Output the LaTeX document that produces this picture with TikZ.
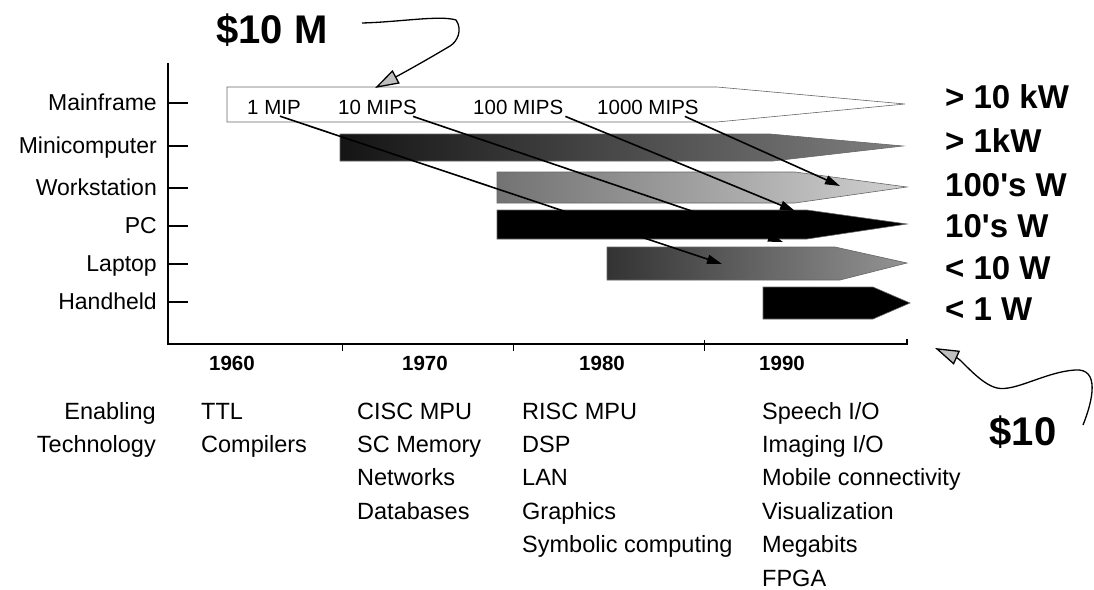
\documentclass[tikz,border=0pt]{standalone}
\usepackage{fontspec}
\setmainfont{Liberation Sans}
\usetikzlibrary{positioning,arrows.meta}

\begin{document}
\begin{tikzpicture}
		[x=1pt,y=-1pt,
		rowlabel/.style={anchor=base east,inner sep=0pt,font=\fontsize{23}{27}\selectfont},
		watts/.style={anchor=base west,inner sep=0pt,font=\fontsize{33}{38}\selectfont\bfseries},
		year/.style={anchor=base,inner sep=0pt,font=\fontsize{20.5}{24}\selectfont\bfseries},
		mips/.style={anchor=base west,inner sep=2pt,font=\fontsize{20.5}{24}\selectfont},
		tech/.style={inner sep=0pt,text height=17pt,text depth=4pt,font=\fontsize{23.5}{28}\selectfont},
		cost/.style={inner sep=0pt,font=\fontsize{40}{46}\selectfont\bfseries},
		bar/.style={draw=black!60,line width=0.6pt},
		rate/.style={-{Triangle[length=15pt,width=9pt]},line width=1.6pt},
		price/.style={line width=1.3pt,-{Triangle[length=24pt,width=15pt,fill=black!25]}}]
		\useasboundingbox (0,0) rectangle (1094,589);

		% axes
		\draw[line width=1.6pt] (168,63) -- (168,344) -- (907,344) -- (907,339);
		\draw[line width=1.4pt] (168,103) -- (188,103);
		\draw[line width=1.4pt] (168,146) -- (188,146);
		\draw[line width=1.4pt] (168,188) -- (188,188);
		\draw[line width=1.4pt] (168,226) -- (188,226);
		\draw[line width=1.4pt] (168,264) -- (188,264);
		\draw[line width=1.4pt] (168,302) -- (188,302);
		\draw (342,344) -- (342,351);
		\draw (513,344) -- (513,351);
		\draw (704,340) -- (704,351);

		\node [rowlabel] (mainframe) at (157,110) {Mainframe};
		\node [rowlabel] (mini) at (157,153) {Minicomputer};
		\node [rowlabel] (workstation) at (157,195) {Workstation};
		\node [rowlabel] (pc) at (157,233) {PC};
		\node [rowlabel] (laptop) at (157,271) {Laptop};
		\node [rowlabel] (handheld) at (157,309) {Handheld};

		\node [year] (y1960) at (232,370) {1960};
		\node [year] (y1970) at (425,370) {1970};
		\node [year] (y1980) at (602,370) {1980};
		\node [year] (y1990) at (782,370) {1990};

		% bars
		\draw[bar,fill=white] (227,87) -- (717,87) -- (905,104) -- (717,122) -- (227,122) -- cycle;
		\draw[bar,left color=black!92,middle color=black!85,right color=black!50] (340,134) -- (770,134) -- (903,146) -- (773,161) -- (340,161) -- cycle;
		\draw[bar,left color=black!55,right color=black!18] (497,172) -- (795,172) -- (907,187) -- (795,203) -- (497,203) -- cycle;
		\draw[bar,fill=black] (497,210) -- (807,210) -- (907,224) -- (807,239) -- (497,239) -- cycle;
		\draw[bar,left color=black!80,middle color=black!70,right color=black!42] (607,247) -- (835,247) -- (907,263) -- (840,280) -- (607,280) -- cycle;
		\draw[bar,fill=black] (763,287) -- (873,287) -- (910,303) -- (873,319) -- (763,319) -- cycle;

		\node [mips] (mip1) at (245,114) {1 MIP};
		\node [mips] (mip2) at (336,114) {10 MIPS};
		\node [mips] (mip3) at (471,114) {100 MIPS};
		\node [mips] (mip4) at (595,114) {1000 MIPS};

		\coordinate (mip1end) at (722,264);
		\coordinate (mip2end) at (783,242);
		\coordinate (mip3end) at (795,211);
		\coordinate (mip4end) at (840,186);
		\draw[rate] ([xshift=6pt]mip1.south) -- (mip1end);
		\draw[rate] ([xshift=-6pt]mip2.south east) -- (mip2end);
		\draw[rate] (mip3.south east) -- (mip3end);
		\draw[rate] ([xshift=-16pt]mip4.south east) -- (mip4end);

		\node [watts] (w1) at (945,108) {> 10 kW};
		\node [watts] (w2) at (945,152) {> 1kW};
		\node [watts] (w3) at (945,196) {100\textquotesingle s W};
		\node [watts] (w4) at (945,237) {10\textquotesingle s W};
		\node [watts] (w5) at (945,279) {< 10 W};
		\node [watts] (w6) at (945,320) {< 1 W};

		% prices
		\node [cost] (costhigh) at (272,30) {\$10 M};
		\node [cost] (costlow) at (1023,432) {\$10};
		\coordinate (hightail) at (362,23);
		\coordinate (hightip) at (375,88);
		\coordinate (lowtail) at (1083,425);
		\coordinate (lowtip) at (935,348);
		\draw[price] (hightail) .. controls (400,22) and (440,15) .. (456,20)
			.. controls (463,30) and (457,42) .. (450,46)
			.. controls (430,58) and (405,72) .. (hightip);
		\draw[price] (lowtail) .. controls (1093,400) and (1100,368) .. (1075,370)
			.. controls (1045,372) and (1015,392) .. (997,388)
			.. controls (980,384) and (962,360) .. (lowtip);

		% enabling technology
		\node [tech,anchor=base east] (enabling) at (156,419) {Enabling};
		\node [tech,below left=12pt and 0pt of enabling.south east] (technology) {Technology};

		\node [tech,anchor=base west] (ttl) at (201,419) {TTL};
		\node [tech,below right=12pt and 0pt of ttl.south west] (compilers) {Compilers};

		\node [tech,anchor=base west] (cisc) at (357,419) {CISC MPU};
		\node [tech,below right=12pt and 0pt of cisc.south west] (scmem) {SC Memory};
		\node [tech,below right=12pt and 0pt of scmem.south west] (networks) {Networks};
		\node [tech,below right=12pt and 0pt of networks.south west] (databases) {Databases};

		\node [tech,anchor=base west] (risc) at (522,419) {RISC MPU};
		\node [tech,below right=12pt and 0pt of risc.south west] (dsp) {DSP};
		\node [tech,below right=12pt and 0pt of dsp.south west] (lan) {LAN};
		\node [tech,below right=12pt and 0pt of lan.south west] (graphics) {Graphics};
		\node [tech,below right=12pt and 0pt of graphics.south west] (symbolic) {Symbolic computing};

		\node [tech,anchor=base west] (speech) at (762,419) {Speech I/O};
		\node [tech,below right=12pt and 0pt of speech.south west] (imaging) {Imaging I/O};
		\node [tech,below right=12pt and 0pt of imaging.south west] (mobile) {Mobile connectivity};
		\node [tech,below right=12pt and 0pt of mobile.south west] (visual) {Visualization};
		\node [tech,below right=12pt and 0pt of visual.south west] (megabits) {Megabits};
		\node [tech,below right=12pt and 0pt of megabits.south west] (fpga) {FPGA};

	\end{tikzpicture}
\end{document}
